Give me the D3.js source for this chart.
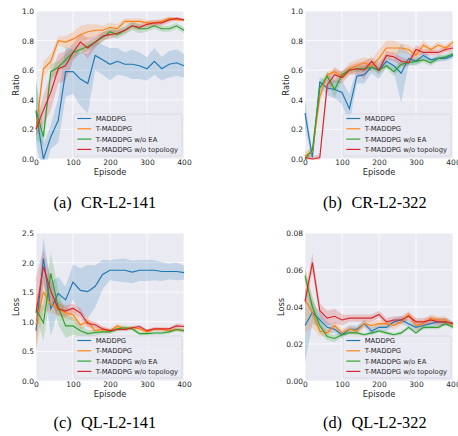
<!DOCTYPE html>
<html><head><meta charset="utf-8">
<script src="https://cdn.jsdelivr.net/npm/d3@7"></script>
<style>body{margin:0;background:#fff}svg{display:block}</style>
</head><body>
<svg id="c" width="458" height="436"></svg>
<script>
const episodes = [0,20,40,60,80,100,120,140,160,180,200,220,240,260,280,300,320,340,360,380,400];
const seriesNames = ["MADDPG","T-MADDPG","T-MADDPG w/o EA","T-MADDPG w/o topology"];
const colors = ["#1f77b4","#ff7f0e","#2ca02c","#d62728"];
const xTicks = [0,100,200,300,400];
const captions = [["(a)","CR-L2-141"],["(b)","CR-L2-322"],["(c)","QL-L2-141"],["(d)","QL-L2-322"]];

// (a) CR-L2-141 ratio
const a_maddpg  = [0.32,0.00,0.15,0.26,0.59,0.59,0.54,0.51,0.70,0.67,0.64,0.66,0.64,0.64,0.63,0.61,0.66,0.61,0.64,0.65,0.63];
const a_tmaddpg = [0.20,0.61,0.66,0.80,0.79,0.81,0.84,0.86,0.87,0.87,0.89,0.88,0.93,0.93,0.93,0.92,0.92,0.93,0.95,0.94,0.94];
const a_noea    = [0.33,0.15,0.59,0.62,0.67,0.72,0.74,0.76,0.79,0.82,0.86,0.84,0.87,0.90,0.88,0.88,0.90,0.88,0.88,0.90,0.87];
const a_notopo  = [0.20,0.33,0.45,0.61,0.63,0.72,0.79,0.75,0.79,0.83,0.84,0.85,0.87,0.90,0.89,0.91,0.92,0.92,0.94,0.95,0.94];
const a_maddpg_sd  = [0.22,0.10,0.08,0.15,0.17,0.15,0.18,0.20,0.10,0.10,0.11,0.09,0.08,0.10,0.09,0.08,0.09,0.08,0.09,0.09,0.08];
const a_tmaddpg_sd = [0.05,0.05,0.05,0.03,0.04,0.05,0.06,0.05,0.04,0.03,0.03,0.03,0.02,0.02,0.02,0.02,0.02,0.02,0.01,0.01,0.01];
const a_noea_sd    = [0.20,0.06,0.05,0.04,0.04,0.04,0.03,0.03,0.03,0.03,0.03,0.03,0.03,0.03,0.03,0.02,0.02,0.02,0.02,0.02,0.02];
const a_notopo_sd  = [0.05,0.10,0.12,0.10,0.10,0.06,0.06,0.07,0.04,0.03,0.03,0.02,0.02,0.02,0.02,0.02,0.02,0.02,0.02,0.01,0.01];

// (b) CR-L2-322 ratio
const b_maddpg  = [0.31,0.01,0.52,0.48,0.47,0.45,0.34,0.56,0.57,0.62,0.60,0.66,0.63,0.58,0.68,0.66,0.70,0.67,0.68,0.68,0.70];
const b_tmaddpg = [0.02,0.05,0.42,0.57,0.59,0.56,0.61,0.63,0.65,0.63,0.68,0.75,0.75,0.75,0.74,0.70,0.77,0.74,0.77,0.75,0.79];
const b_noea    = [0.00,0.06,0.48,0.56,0.47,0.57,0.60,0.61,0.61,0.62,0.60,0.63,0.59,0.64,0.65,0.66,0.67,0.65,0.68,0.69,0.71];
const b_notopo  = [0.01,0.00,0.01,0.50,0.57,0.55,0.60,0.61,0.60,0.66,0.60,0.70,0.69,0.66,0.65,0.74,0.72,0.72,0.72,0.74,0.75];
const b_maddpg_sd  = [0.10,0.02,0.03,0.05,0.06,0.08,0.10,0.05,0.06,0.04,0.06,0.04,0.04,0.20,0.04,0.03,0.03,0.02,0.02,0.02,0.02];
const b_tmaddpg_sd = [0.03,0.03,0.05,0.02,0.02,0.03,0.04,0.04,0.04,0.04,0.06,0.05,0.05,0.03,0.03,0.04,0.03,0.02,0.02,0.02,0.02];
const b_noea_sd    = [0.02,0.03,0.04,0.03,0.06,0.03,0.02,0.02,0.02,0.02,0.02,0.02,0.03,0.02,0.02,0.02,0.02,0.02,0.02,0.02,0.02];
const b_notopo_sd  = [0.02,0.02,0.02,0.05,0.05,0.04,0.03,0.04,0.06,0.03,0.03,0.03,0.03,0.03,0.02,0.03,0.02,0.02,0.02,0.02,0.02];

// (c) QL-L2-141 loss
const c_maddpg  = [0.85,2.07,1.22,1.48,1.37,1.67,1.53,1.51,1.60,1.80,1.87,1.87,1.87,1.84,1.87,1.87,1.87,1.85,1.85,1.85,1.83];
const c_tmaddpg = [0.95,1.50,1.30,1.22,1.15,1.12,0.95,1.00,0.85,0.87,0.85,0.93,0.88,0.90,0.88,0.83,0.88,0.87,0.85,0.87,0.85];
const c_noea    = [1.22,0.98,1.82,1.25,0.93,0.93,0.85,0.80,0.82,0.83,0.83,0.88,0.90,0.88,0.80,0.80,0.81,0.81,0.83,0.87,0.85];
const c_notopo  = [1.15,1.93,1.52,1.22,1.18,1.23,1.15,0.97,0.95,0.88,0.85,0.87,0.87,0.90,0.92,0.85,0.88,0.88,0.88,0.93,0.92];
const c_maddpg_sd  = [0.10,0.35,0.45,0.28,0.22,0.30,0.38,0.45,0.35,0.25,0.17,0.19,0.20,0.19,0.18,0.18,0.17,0.16,0.13,0.15,0.12];
const c_tmaddpg_sd = [0.45,0.30,0.15,0.10,0.10,0.10,0.08,0.07,0.05,0.05,0.04,0.04,0.03,0.03,0.03,0.03,0.03,0.03,0.03,0.03,0.03];
const c_noea_sd    = [0.10,0.30,0.35,0.30,0.20,0.15,0.10,0.06,0.05,0.04,0.04,0.04,0.04,0.03,0.03,0.03,0.03,0.03,0.03,0.03,0.03];
const c_notopo_sd  = [0.60,0.30,0.20,0.12,0.10,0.08,0.08,0.06,0.05,0.04,0.03,0.03,0.03,0.03,0.03,0.03,0.03,0.03,0.03,0.04,0.04];

// (d) QL-L2-322 loss
const d_maddpg  = [0.030,0.037,0.033,0.029,0.028,0.025,0.028,0.028,0.031,0.027,0.029,0.029,0.032,0.033,0.031,0.029,0.030,0.031,0.032,0.032,0.031];
const d_tmaddpg = [0.044,0.037,0.027,0.026,0.030,0.026,0.028,0.027,0.031,0.030,0.031,0.031,0.030,0.032,0.036,0.030,0.031,0.034,0.033,0.033,0.030];
const d_noea    = [0.057,0.040,0.030,0.024,0.023,0.025,0.026,0.026,0.025,0.026,0.027,0.026,0.025,0.026,0.029,0.026,0.029,0.029,0.029,0.031,0.029];
const d_notopo  = [0.043,0.064,0.038,0.034,0.035,0.033,0.034,0.034,0.034,0.034,0.036,0.032,0.033,0.033,0.035,0.032,0.032,0.033,0.032,0.032,0.031];
const d_maddpg_sd  = [0.020,0.006,0.004,0.003,0.002,0.002,0.002,0.002,0.002,0.002,0.002,0.002,0.002,0.002,0.002,0.002,0.002,0.002,0.002,0.002,0.001];
const d_tmaddpg_sd = [0.018,0.008,0.003,0.002,0.002,0.002,0.002,0.002,0.002,0.002,0.002,0.002,0.002,0.002,0.002,0.003,0.002,0.002,0.002,0.002,0.001];
const d_noea_sd    = [0.003,0.006,0.004,0.002,0.002,0.001,0.001,0.001,0.001,0.001,0.001,0.001,0.001,0.001,0.001,0.001,0.001,0.001,0.001,0.001,0.001];
const d_notopo_sd  = [0.003,0.005,0.004,0.004,0.004,0.003,0.002,0.002,0.002,0.002,0.002,0.002,0.002,0.002,0.002,0.002,0.002,0.002,0.002,0.002,0.001];

const ratioTicks = [0,0.2,0.4,0.6,0.8,1.0];
const lossTicksC = [0,0.5,1.0,1.5,2.0,2.5];
const lossTicksD = [0,0.02,0.04,0.06,0.08];

const panels = [
  {left:36, top:11, ylabel:"Ratio", ydom:[0,1], yticks:ratioTicks, fmt:d3.format(".1f"), means:[a_maddpg,a_tmaddpg,a_noea,a_notopo], sds:[a_maddpg_sd,a_tmaddpg_sd,a_noea_sd,a_notopo_sd], ylabX:19},
  {left:305, top:11, ylabel:"Ratio", ydom:[0,1], yticks:ratioTicks, fmt:d3.format(".1f"), means:[b_maddpg,b_tmaddpg,b_noea,b_notopo], sds:[b_maddpg_sd,b_tmaddpg_sd,b_noea_sd,b_notopo_sd], ylabX:289},
  {left:36, top:233, ylabel:"Loss", ydom:[0,2.5], yticks:lossTicksC, fmt:d3.format(".1f"), means:[c_maddpg,c_tmaddpg,c_noea,c_notopo], sds:[c_maddpg_sd,c_tmaddpg_sd,c_noea_sd,c_notopo_sd], ylabX:19},
  {left:305, top:233, ylabel:"Loss", ydom:[0,0.08], yticks:lossTicksD, fmt:d3.format(".2f"), means:[d_maddpg,d_tmaddpg,d_noea,d_notopo], sds:[d_maddpg_sd,d_tmaddpg_sd,d_noea_sd,d_notopo_sd], ylabX:284}
];
const W = 148, H = 148;
const svg = d3.select("#c");
const font = "DejaVu Sans, sans-serif";

panels.forEach((p, pi) => {
  const g = svg.append("g").attr("transform", `translate(${p.left},${p.top})`);
  const x = d3.scaleLinear().domain([0,400]).range([0,W]);
  const y = d3.scaleLinear().domain(p.ydom).range([H,0]);
  g.append("rect").attr("width", W).attr("height", H).attr("fill", "#eaeaf2");
  g.selectAll(".gx").data(xTicks).join("line").attr("x1", d=>x(d)).attr("x2", d=>x(d)).attr("y1",0).attr("y2",H).attr("stroke","#fff").attr("stroke-width",0.8);
  g.selectAll(".gy").data(p.yticks).join("line").attr("y1", d=>y(d)).attr("y2", d=>y(d)).attr("x1",0).attr("x2",W).attr("stroke","#fff").attr("stroke-width",0.8);

  const area = d3.area().x((d,i)=>x(episodes[i])).y0(d=>y(d[0])).y1(d=>y(d[1]));
  const line = d3.line().x((d,i)=>x(episodes[i])).y(d=>y(d));
  const clipId = "clip"+pi;
  g.append("clipPath").attr("id", clipId).append("rect").attr("x",-1).attr("y",-1).attr("width",W+2).attr("height",H+2);
  const pg = g.append("g").attr("clip-path", `url(#${clipId})`);
  p.means.forEach((m, si) => {
    const band = m.map((v,i)=>[v - p.sds[si][i], v + p.sds[si][i]]);
    pg.append("path").attr("d", area(band)).attr("fill", colors[si]).attr("fill-opacity", 0.2);
  });
  p.means.forEach((m, si) => {
    pg.append("path").attr("d", line(m)).attr("fill","none").attr("stroke", colors[si]).attr("stroke-width", 1.15);
  });

  const xa = g.append("g").attr("transform", `translate(0,${H})`).call(d3.axisBottom(x).tickValues(xTicks).tickSize(0).tickPadding(1));
  const ya = g.append("g").call(d3.axisLeft(y).tickValues(p.yticks).tickFormat(p.fmt).tickSize(0).tickPadding(2));
  [xa, ya].forEach(a => { a.select(".domain").remove(); a.selectAll("text").attr("font-family", font).attr("font-size", 7.5).attr("fill", "#262626"); });

  g.append("text").attr("x", W/2).attr("y", H+15.5).attr("text-anchor","middle").attr("font-family",font).attr("font-size",8.3).attr("fill","#262626").text("Episode");
  svg.append("text").attr("transform", `translate(${p.ylabX},${p.top+H/2}) rotate(-90)`).attr("text-anchor","middle").attr("font-family",font).attr("font-size",8.3).attr("fill","#262626").text(p.ylabel);

  const lg = g.append("g").attr("transform", `translate(${W-110},${H-45})`);
  lg.append("rect").attr("width",108).attr("height",42).attr("rx",2).attr("fill","#eaeaf2").attr("fill-opacity",0.8).attr("stroke","#d0d0d8").attr("stroke-width",0.6);
  seriesNames.forEach((n, si) => {
    const yy = 4.5 + si*10.3;
    lg.append("line").attr("x1",3.3).attr("x2",17.3).attr("y1",yy).attr("y2",yy).attr("stroke",colors[si]).attr("stroke-width",1.15);
    lg.append("text").attr("x",21.7).attr("y",yy+2.5).attr("font-family",font).attr("font-size",6.8).attr("fill","#262626").text(n);
  });
});

const capPos = [[53.5,207.5],[323,207.5],[53.5,428],[323,428]];
captions.forEach((c, i) => {
  const t = svg.append("text").attr("x", capPos[i][0]).attr("y", capPos[i][1]).attr("font-family","Liberation Serif, serif").attr("font-size",16.3).attr("fill","#000");
  t.append("tspan").text(c[0]);
  t.append("tspan").attr("dx", 9.5).text(c[1]);
});
</script>
</body></html>
